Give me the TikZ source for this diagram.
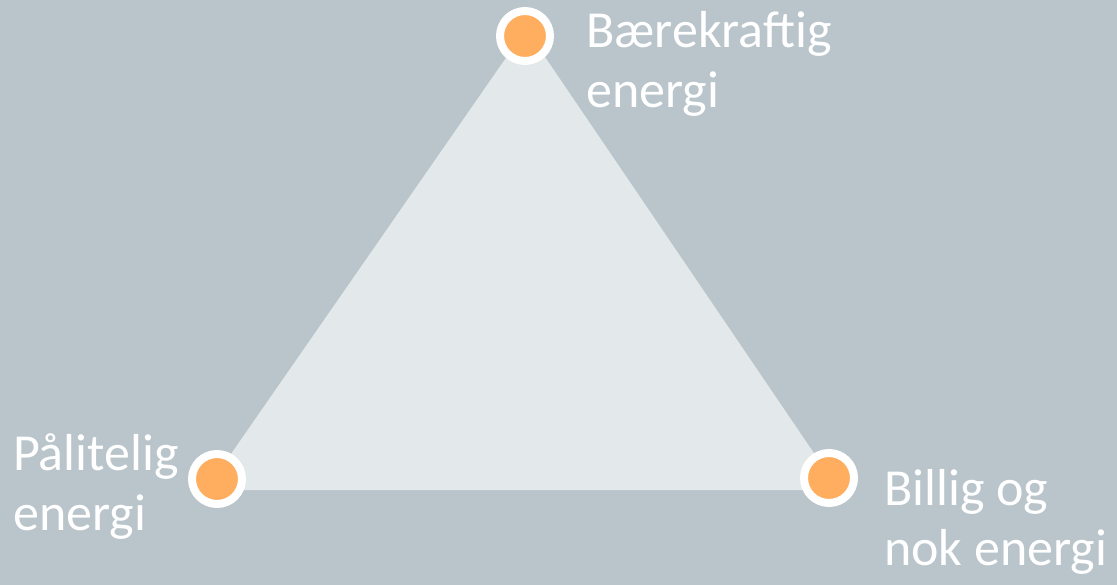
\documentclass[tikz,border=0pt]{standalone}
\usepackage{fontspec}
\setmainfont{Carlito}
\definecolor{bgc}{HTML}{B9C5CB}
\definecolor{tric}{HTML}{E3E8EB}
\definecolor{dotc}{HTML}{FFAD5F}

\begin{document}
\begin{tikzpicture}[
x=1pt, y=-1pt,
  dot/.style = {circle, draw=white, fill=dotc,% corner markers
                line width=8pt, minimum size=50pt,
                inner sep=0pt, outer sep=0pt},
  lbl/.style = {text=white, align=left, inner sep=0pt,% labels
                font=\fontsize{52}{60}\selectfont, anchor=base west},
                    ]
\fill[bgc] (0,0) rectangle (1117,585);
\useasboundingbox (0,0) rectangle (1117,585);
\coordinate (A) at (526,29);
\coordinate (B) at (206,490);
\coordinate (C) at (839,490);
\fill[tric] (A) -- (B) -- (C) -- cycle;
\node[dot] (top)   at (525,36)  {};
\node[dot] (left)  at (217,479) {};
\node[dot] (right) at (829,478) {};
\node[lbl] (t1) at (586,108) {Bærekraftig\\energi};
\node[lbl] (t2) at (13,530)  {Pålitelig\\energi};
\node[lbl] (t3) at (884,565) {Billig og\\nok energi};
\end{tikzpicture}
\end{document}
